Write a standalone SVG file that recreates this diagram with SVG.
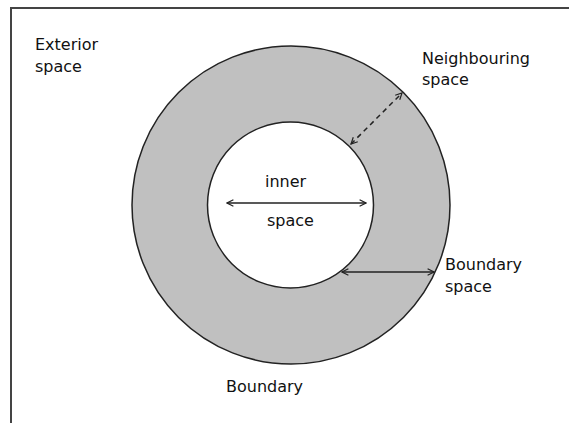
<svg xmlns="http://www.w3.org/2000/svg" width="569" height="423" viewBox="0 0 569 423">
  <style>
    .lbl { font-family: "DejaVu Sans", "Liberation Sans", sans-serif; font-size: 16px; fill: #111; }
    .ring { stroke: #222; stroke-width: 1.5; }
    .conn { stroke: #222; stroke-width: 1.5; fill: none; }
  </style>
  <defs>
    <marker id="arr" viewBox="0 0 10 10" refX="9" refY="5" markerWidth="8" markerHeight="8" markerUnits="userSpaceOnUse" orient="auto-start-reverse">
      <path d="M1,1 L9,5 L1,9" fill="none" stroke="#222" stroke-width="1.5"/>
    </marker>
  </defs>
  <rect width="569" height="423" fill="#fff"/>
  <g id="frame">
    <rect x="11" y="8" width="700" height="600" fill="none" stroke="#444" stroke-width="2"/>
  </g>
  <g id="boundary">
    <circle cx="291" cy="205" r="159" fill="#c0c0c0" class="ring"/>
  </g>
  <g id="inner-space">
    <circle cx="290.5" cy="205" r="83" fill="#fff" class="ring"/>
  </g>
  <g id="connectors">
    <line x1="227" y1="203" x2="366" y2="203" class="conn" marker-start="url(#arr)" marker-end="url(#arr)"/>
    <line x1="351" y1="144" x2="402" y2="93" class="conn" stroke-dasharray="5,4" marker-start="url(#arr)" marker-end="url(#arr)"/>
    <line x1="342" y1="272" x2="434" y2="272" class="conn" marker-start="url(#arr)" marker-end="url(#arr)"/>
  </g>
  <g id="label-exterior">
    <text class="lbl" x="35" y="50">Exterior</text>
    <text class="lbl" x="35" y="72">space</text>
  </g>
  <g id="label-neighbouring">
    <text class="lbl" x="422" y="64">Neighbouring</text>
    <text class="lbl" x="422" y="85">space</text>
  </g>
  <g id="label-inner">
    <text class="lbl" x="265" y="187">inner</text>
    <text class="lbl" x="267" y="226">space</text>
  </g>
  <g id="label-boundary-space">
    <text class="lbl" x="445" y="270">Boundary</text>
    <text class="lbl" x="445" y="292">space</text>
  </g>
  <g id="label-boundary">
    <text class="lbl" x="226" y="392">Boundary</text>
  </g>
</svg>
